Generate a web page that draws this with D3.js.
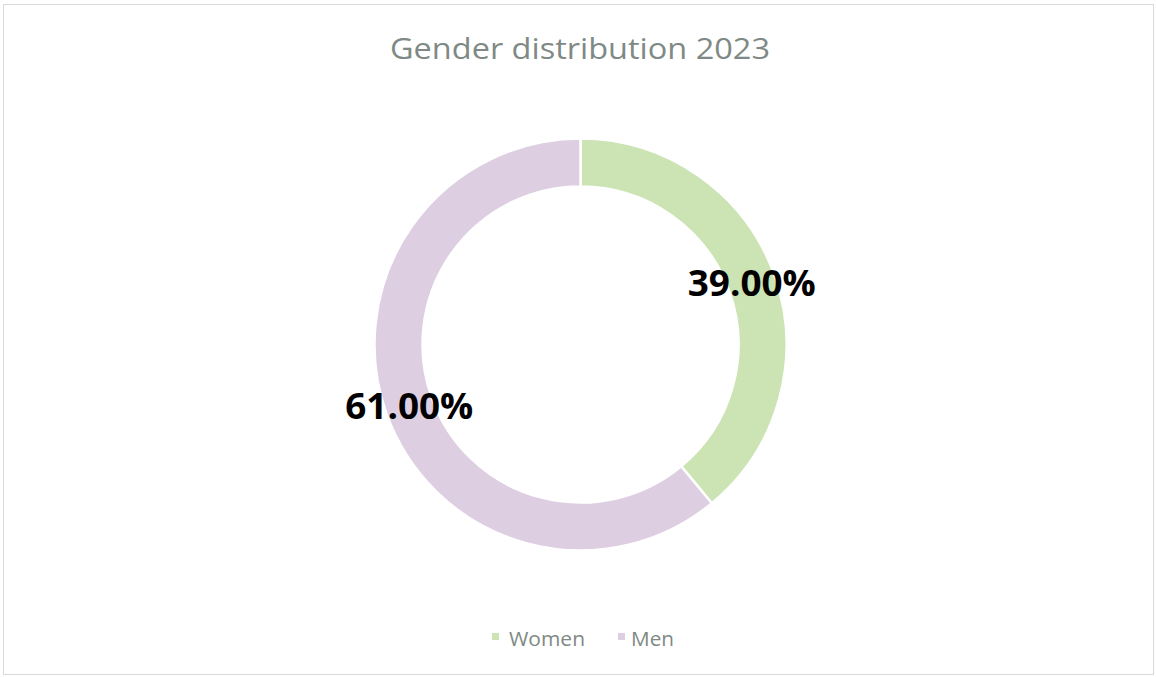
<!DOCTYPE html>
<html>
<head>
<meta charset="utf-8">
<script src="https://cdn.jsdelivr.net/npm/d3@7/dist/d3.min.js"></script>
<style>
  html, body { margin: 0; padding: 0; background: #fff; }
  svg { display: block; }
</style>
</head>
<body>
<svg id="chart" width="1156" height="677"></svg>
<script>
const categories = ["Women", "Men"];
const values = [39, 61];
const colors = ["#cce3b4", "#ddcee2"];
const title = "Gender distribution 2023";

const svg = d3.select("#chart");
const textColor = "#7f8985";

svg.append("rect")
  .attr("x", 3.5).attr("y", 4.5)
  .attr("width", 1150).attr("height", 670)
  .attr("fill", "#fff").attr("stroke", "#d9d9d9").attr("stroke-width", 1);

svg.append("text")
  .attr("x", 580).attr("y", 59)
  .attr("text-anchor", "middle")
  .attr("font-family", "Open Sans, sans-serif")
  .attr("font-size", 29)
  .attr("textLength", 380)
  .attr("lengthAdjust", "spacingAndGlyphs")
  .attr("fill", textColor)
  .text(title);

const cx = 580.5, cy = 344.5, rOuter = 206, rInner = 158;
const data = categories.map((c, i) => ({ name: c, value: values[i], color: colors[i] }));
const pie = d3.pie().value(d => d.value).sort(null);
const arc = d3.arc().innerRadius(rInner).outerRadius(rOuter);
const arcs = pie(data);

const g = svg.append("g").attr("transform", `translate(${cx},${cy})`);
g.selectAll("path").data(arcs).join("path")
  .attr("d", arc)
  .attr("fill", d => d.data.color)
  .attr("stroke", "#fff")
  .attr("stroke-width", 2.5);

const total = d3.sum(values);
g.selectAll("text.lbl").data(arcs).join("text")
  .attr("class", "lbl")
  .attr("transform", d => `translate(${arc.centroid(d)})`)
  .attr("text-anchor", "middle")
  .attr("dy", "0.36em")
  .attr("font-family", "Open Sans, sans-serif")
  .attr("font-weight", "bold")
  .attr("font-size", 36)
  .attr("textLength", 128)
  .attr("lengthAdjust", "spacingAndGlyphs")
  .attr("fill", "#000")
  .text(d => (d.data.value / total * 100).toFixed(2) + "%");

const legendX = [492, 618];
const textX = [509, 631];
const textW = [76, 43];
const items = svg.append("g").selectAll("g").data(data).join("g");
items.append("rect")
  .attr("x", (d, i) => legendX[i]).attr("y", 633)
  .attr("width", 7).attr("height", 7).attr("fill", d => d.color);
items.append("text")
  .attr("x", (d, i) => textX[i]).attr("y", 645.5)
  .attr("font-family", "Open Sans, sans-serif")
  .attr("font-size", 20.5)
  .attr("textLength", (d, i) => textW[i])
  .attr("lengthAdjust", "spacingAndGlyphs")
  .attr("fill", textColor)
  .text(d => d.name);
</script>
</body>
</html>
